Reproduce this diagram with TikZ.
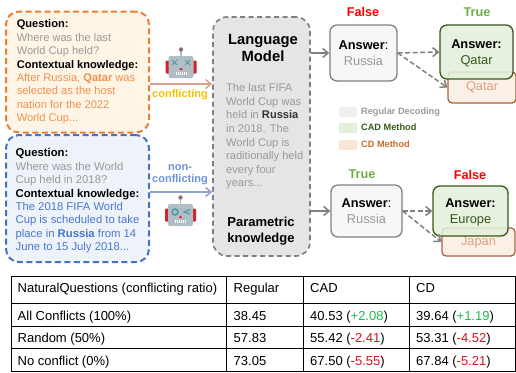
\documentclass[tikz,border=0pt]{standalone}
\usepackage{fontspec}
\setmainfont{Liberation Sans}
\usetikzlibrary{arrows.meta}
\definecolor{orangeline}{HTML}{ED7D31}
\definecolor{orangefill}{HTML}{FFF5E6}
\definecolor{orangetext}{HTML}{F0904F}
\definecolor{orangearrow}{HTML}{D9A28C}
\definecolor{blueline}{HTML}{4472C4}
\definecolor{bluefill}{HTML}{EEF3FA}
\definecolor{bluetext}{HTML}{4A78CF}
\definecolor{bluearrow}{HTML}{8FA3CF}
\definecolor{greytext}{HTML}{999999}
\definecolor{greyline}{HTML}{808080}
\definecolor{cadline}{HTML}{38571A}
\definecolor{cadfill}{HTML}{E2F0D9}
\definecolor{cdline}{HTML}{A9653F}
\definecolor{cdfill}{HTML}{FBF0E8}
\definecolor{cdtext}{HTML}{DDA27E}
\definecolor{cdlegend}{HTML}{FBE5D6}
\definecolor{truegreen}{HTML}{70AD47}
\definecolor{plusgreen}{HTML}{1DB954}
\definecolor{minusred}{HTML}{D9141E}
\definecolor{robotbody}{HTML}{B0BEC5}
\definecolor{robotred}{HTML}{D3202F}
\definecolor{roboteye}{HTML}{4F9AA8}
\tikzset{
	qbox/.style={draw, line width=2pt, dash pattern=on 6pt off 3.5pt, rounded corners=13pt, minimum width=143pt, minimum height=121pt, align=left, inner sep=0pt, font=\fontsize{11.1}{13.4}\selectfont},
	ansbox/.style={draw=greyline, fill=black!3, line width=1.3pt, rounded corners=7pt, align=center, inner sep=0pt, font=\fontsize{12.8}{15.5}\selectfont},
	cadbox/.style={draw=cadline, fill=cadfill, fill opacity=0.85, text opacity=1, text=cadline, line width=1.3pt, rounded corners=7pt, align=center, inner sep=0pt, font=\fontsize{12.8}{16}\selectfont},
	cdbox/.style={draw=cdline, fill=cdfill, text=cdtext, line width=1.3pt, rounded corners=4pt, inner sep=0pt, font=\fontsize{12.8}{14}\selectfont},
	verdict/.style={font=\fontsize{12.7}{14}\selectfont\bfseries},
	arrowline/.style={-{Straight Barb[length=5.5pt,width=9pt]}, line width=1.5pt},
	dashline/.style={arrowline, dash pattern=on 5pt off 2.5pt},
	legendbox/.style={minimum width=18pt, minimum height=10pt, inner sep=0pt},
	legendtext/.style={anchor=west, inner sep=0pt, font=\fontsize{9.2}{10}\selectfont\bfseries},
	cell/.style={anchor=base west, inner sep=0pt, font=\fontsize{13}{15}\selectfont},
	pics/robot/.style={code={
		\fill[robotred, rounded corners=1pt] (-15.5,-6.5) rectangle (15.5,6.5);
		\draw[line width=1.5pt, robotbody] (0,-11) -- (0,-16);
		\fill[black!45] (0,-17.5) circle (2.3pt);
		\fill[robotred] (0,-17.5) circle (1pt);
		\fill[robotbody, rounded corners=2pt] (-12.5,-11) rectangle (12.5,11);
		\fill[robotred] (0,0.5) -- (-1.7,2.8) -- (1.7,2.8) -- cycle;
		\draw[white, line width=3.5pt, dash pattern=on 1pt off 1pt] (-5.5,6.5) -- (5.5,6.5);
	}},
}
\begin{document}
\begin{tikzpicture}[x=1pt, y=-1pt]
	\useasboundingbox (0, 0) rectangle (516, 372);
	\node[qbox, draw=orangeline, fill=orangefill] (orangeq) at (77.5, 72) {\textbf{Question:}\\
		\textcolor{greytext}{Where was the last}\\
		\textcolor{greytext}{World Cup held?}\\
		\textbf{Contextual knowledge:}\\
		\textcolor{orangetext}{After Russia, \textbf{Qatar} was}\\
		\textcolor{orangetext}{selected as the host}\\
		\textcolor{orangetext}{nation for the 2022}\\
		\textcolor{orangetext}{World Cup...}};
	\node[qbox, draw=blueline, fill=bluefill, minimum height=127pt, font=\fontsize{11.3}{13.4}\selectfont] (blueq) at (77.5, 198.5) {\rule{0pt}{13pt}\textbf{Question:}\\
		\textcolor{greytext}{Where was the World}\\
		\textcolor{greytext}{Cup held in 2018?}\\
		\textbf{Contextual knowledge:}\\
		\textcolor{bluetext}{The 2018 FIFA World}\\
		\textcolor{bluetext}{Cup is scheduled to take}\\
		\textcolor{bluetext}{place in \textbf{Russia} from 14}\\
		\textcolor{bluetext}{June to 15 July 2018...}};
	\node[draw=greyline, fill=black!10, line width=1.6pt, dash pattern=on 5pt off 3.5pt, rounded corners=14pt, minimum width=97pt, minimum height=239pt, inner sep=0pt] (lm) at (261.5, 136.5) {};
	\node[align=center, font=\fontsize{14.8}{17.5}\selectfont\bfseries] (lmtitle) at (263, 48) {Language\\Model};
	\node[anchor=north west, inner sep=0pt, align=left, text=greytext, font=\fontsize{11.1}{13.6}\selectfont] (lmtext) at (226, 83.5) {The last FIFA\\World Cup was\\held in \textcolor{black!80}{\textbf{Russia}}\\in 2018. The\\World Cup is\\raditionally held\\every four\\years...};
	\node[align=center, font=\fontsize{13}{16}\selectfont\bfseries] (lmparam) at (261, 231) {Parametric\\knowledge};
	\node[cdbox, minimum width=68pt, minimum height=31pt] (cdone) at (482, 87.5) {\rule{0pt}{7pt}Qatar};
	\node[cadbox, minimum width=73pt, minimum height=54pt] (cadone) at (476.5, 52) {\rule{0pt}{12pt}\textcolor{black}{\textbf{Answer:}}\\Qatar};
	\node[cdbox, minimum width=73pt, minimum height=28pt] (cdtwo) at (478.5, 242) {\rule{0pt}{8pt}Japan};
	\node[cadbox, minimum width=75pt, minimum height=50pt] (cadtwo) at (470.5, 211) {\rule{0pt}{11pt}\textcolor{black}{\textbf{Answer:}}\\Europe};
	\node[ansbox, minimum width=67pt, minimum height=56pt] (ansone) at (363.5, 53) {\textbf{Answer}:\\\textcolor{greytext}{Russia}};
	\node[ansbox, minimum width=71pt, minimum height=52pt] (anstwo) at (366.5, 211) {\textbf{Answer}:\\\textcolor{greytext}{Russia}};
	\node[verdict, text=red] (falseone) at (363, 12) {False};
	\node[verdict, text=truegreen] (trueone) at (477, 12) {True};
	\node[verdict, text=truegreen] (truetwo) at (362, 174) {True};
	\node[verdict, text=red] (falsetwo) at (470, 175) {False};
	\draw[arrowline, color=orangearrow] ([yshift=-12pt]orangeq.east) -- ([yshift=52.5pt]lm.west);
	\draw[arrowline, color=bluearrow] ([yshift=6.5pt]blueq.east) -- ([yshift=-55.5pt]lm.west);
	\draw[arrowline, color=greyline] (lm.east |- ansone.west) -- (ansone.west);
	\draw[arrowline, color=greyline] (lm.east |- anstwo.west) -- (anstwo.west);
	\draw[dashline, color=greyline] (ansone.east) -- (cadone.west);
	\draw[dashline, color=greyline] (ansone.east) -- (cdone.west);
	\draw[dashline, color=greyline] (anstwo.east) -- (cadtwo.west);
	\draw[dashline, color=greyline] (anstwo.east) -- (cdtwo.west);
	\node[font=\fontsize{11}{13}\selectfont\bfseries, text=orange!40!yellow!95!black] (conflict) at (180, 95) {conflicting};
	\node[align=center, font=\fontsize{11}{12.5}\selectfont\bfseries, text=bluetext!80!white] (nonconflict) at (180, 174.5) {non-\\conflicting};
	\pic at (181, 67) {robot};
	\draw[roboteye, line width=1pt] (172, 60) -- (177, 65) (172, 65) -- (177, 60) (185, 60) -- (190, 65) (185, 65) -- (190, 60);
	\pic at (180.5, 215) {robot};
	\draw[roboteye, line width=1.5pt] (175, 212) circle (3pt);
	\draw[roboteye, line width=1.2pt] (190, 209.5) -- (184, 212) -- (190, 214);
	\node[legendbox, fill=black!6] (regbox) at (348, 112) {};
	\node[legendbox, fill=cadfill] (cadbox) at (348, 127.5) {};
	\node[legendbox, fill=cdlegend] (cdbox) at (348, 144.5) {};
	\node[legendtext, text=black!40] (reglabel) at (361, 112) {Regular Decoding};
	\node[legendtext, text=cadline] (cadlabel) at (361, 127.5) {CAD Method};
	\node[legendtext, text=orangeline!85!black] (cdlabel) at (361, 144.5) {CD Method};
	\draw[line width=0.9pt] (11, 276) rectangle (515, 371);
	\draw[line width=0.9pt] (11, 303) -- (515, 303);
	\draw[line width=0.9pt] (11, 326) -- (515, 326);
	\draw[line width=0.9pt] (11, 348) -- (515, 348);
	\draw[line width=0.9pt] (226.5, 276) -- (226.5, 371);
	\draw[line width=0.9pt] (303, 276) -- (303, 371);
	\draw[line width=0.9pt] (409, 276) -- (409, 371);
	\node[cell] (headname) at (17.5, 292.5) {NaturalQuestions (conflicting ratio)};
	\node[cell] (headreg) at (233.5, 292.5) {Regular};
	\node[cell] (headcad) at (310, 292.5) {CAD};
	\node[cell] (headcd) at (416, 292.5) {CD};
	\node[cell] (allname) at (17.5, 320.5) {All Conflicts (100\%)};
	\node[cell] (allreg) at (233.5, 320.5) {38.45};
	\node[cell] (allcad) at (310, 320.5) {40.53 (\textcolor{plusgreen}{+2.08})};
	\node[cell] (allcd) at (416, 320.5) {39.64 (\textcolor{plusgreen}{+1.19})};
	\node[cell] (randname) at (17.5, 342.5) {Random (50\%)};
	\node[cell] (randreg) at (233.5, 342.5) {57.83};
	\node[cell] (randcad) at (310, 342.5) {55.42 (\textcolor{minusred}{-2.41})};
	\node[cell] (randcd) at (416, 342.5) {53.31 (\textcolor{minusred}{-4.52})};
	\node[cell] (noname) at (17.5, 365.5) {No conflict (0\%)};
	\node[cell] (noreg) at (233.5, 365.5) {73.05};
	\node[cell] (nocad) at (310, 365.5) {67.50 (\textcolor{minusred}{-5.55})};
	\node[cell] (nocd) at (416, 365.5) {67.84 (\textcolor{minusred}{-5.21})};
\end{tikzpicture}
\end{document}
